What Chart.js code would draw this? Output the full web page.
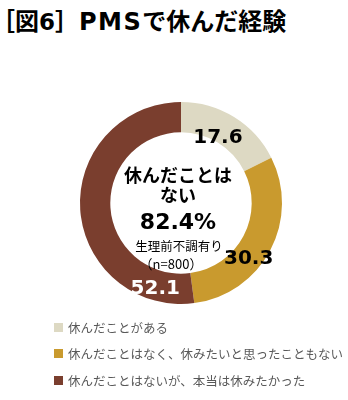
<!DOCTYPE html>
<html>
<head>
<meta charset="utf-8">
<script src="https://cdn.jsdelivr.net/npm/chart.js@4"></script>
<style>
  body { margin: 0; width: 348px; height: 400px; background: #fff; position: relative; overflow: hidden; font-family: 'Noto Sans CJK JP', sans-serif; }
  #title { position: absolute; left: -9px; top: 2px; font-size: 24px; font-weight: bold; color: #000; white-space: nowrap; }
  #title .num { font-family: 'DejaVu Sans', sans-serif; font-size: 23px; }
  #title .pms { font-size: 24px; letter-spacing: 1.5px; }
  #chartBox { position: absolute; left: 0; top: 0; width: 348px; height: 400px; }
  .legend { position: absolute; left: 54px; font-size: 12.5px; color: #595959; white-space: nowrap; display: flex; align-items: center; }
  .legend span.box { display: inline-block; width: 9px; height: 9px; margin-right: 5px; }
</style>
</head>
<body>
<div id="title">［図<span class="num">6</span>］<span class="num pms">PMS</span>で休んだ経験</div>
<div id="chartBox"><canvas id="pmsChart" width="348" height="400"></canvas></div>
<div id="legendBox"></div>
<script>
const categories = ['休んだことがある', '休んだことはなく、休みたいと思ったこともない', '休んだことはないが、本当は休みたかった'];
const shares = [17.6, 30.3, 52.1];
const sliceColors = ['#DDD9C3', '#C99A2E', '#7A3E2E'];
const labelColors = ['#000', '#000', '#fff'];
const centerLines = ['休んだことは', 'ない', '82.4%', '生理前不調有り', '（n=800）'];

// where each value label sits: fraction along its slice, radius relative to outer radius
const labelSpot = [[0.46, 0.75], [0.6, 0.86], [0.13, 0.88]];

const sliceLabels = {
  id: 'sliceLabels',
  afterDatasetsDraw(chart) {
    const ctx = chart.ctx;
    const meta = chart.getDatasetMeta(0);
    ctx.save();
    ctx.textAlign = 'center';
    ctx.textBaseline = 'middle';
    ctx.font = 'bold 20px "DejaVu Sans", sans-serif';
    meta.data.forEach((arc, i) => {
      const a = arc.startAngle + (arc.endAngle - arc.startAngle) * labelSpot[i][0];
      const r = arc.outerRadius * labelSpot[i][1];
      ctx.fillStyle = labelColors[i];
      ctx.fillText(shares[i].toFixed(1), arc.x + Math.cos(a) * r, arc.y + Math.sin(a) * r + 1);
    });

    const cx = meta.data[0].x;
    const cy = meta.data[0].y;
    ctx.fillStyle = '#000';
    ctx.font = 'bold 18px "Noto Sans CJK JP", sans-serif';
    ctx.fillText(centerLines[0], cx - 3, cy - 28);
    ctx.fillText(centerLines[1], cx - 3, cy - 8);
    ctx.font = 'bold 22px "DejaVu Sans", sans-serif';
    ctx.fillText(centerLines[2], cx - 3, cy + 20);
    ctx.font = '12.5px "Noto Sans CJK JP", sans-serif';
    ctx.fillText(centerLines[3], cx - 2, cy + 43);
    ctx.font = '13px "Noto Sans CJK JP", sans-serif';
    ctx.fillText(centerLines[4], cx - 10, cy + 61);
    ctx.restore();
  }
};

new Chart(document.getElementById('pmsChart'), {
  type: 'doughnut',
  data: {
    labels: categories,
    datasets: [{ data: shares, backgroundColor: sliceColors, borderWidth: 0 }],
  },
  options: {
    responsive: false,
    animation: false,
    cutout: '70%',
    layout: { padding: { left: 80, top: 102, right: 66, bottom: 96 } },
    plugins: { legend: { display: false }, tooltip: { enabled: false } },
  },
  plugins: [sliceLabels],
});

const legendTops = [318, 344, 371];
document.getElementById('legendBox').innerHTML = categories.map((name, i) =>
  `<div class="legend" style="top:${legendTops[i]}px"><span class="box" style="background:${sliceColors[i]}"></span>${name}</div>`
).join('');
</script>
</body>
</html>
